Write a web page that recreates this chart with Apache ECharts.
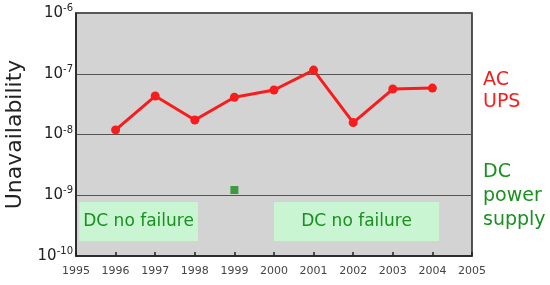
<!DOCTYPE html>
<html><head><meta charset="utf-8">
<script src="https://cdn.jsdelivr.net/npm/echarts@6/dist/echarts.min.js"></script>
<style>html,body{margin:0;padding:0;background:#fff}#c{width:550px;height:285px}</style>
</head><body><div id="c"></div>
<script>
const years = [1996, 1997, 1998, 1999, 2000, 2001, 2002, 2003, 2004];
const acUps = [1.19e-8, 4.3e-8, 1.73e-8, 4.1e-8, 5.4e-8, 1.15e-7, 1.57e-8, 5.6e-8, 5.8e-8];
const dcYears = [1999];
const dcPower = [1.22e-9];
const noFailBoxes = [
  {label: 'DC no failure', x0: 1995.08, x1: 1998.08, y0: 1.77e-10, y1: 7.75e-10},
  {label: 'DC no failure', x0: 2000.0, x1: 2004.17, y0: 1.77e-10, y1: 7.75e-10}
];
const xTicks = [1995, 1996, 1997, 1998, 1999, 2000, 2001, 2002, 2003, 2004, 2005];

const chart = echarts.init(document.getElementById('c'), null, {renderer: 'canvas'});
const font = 'DejaVu Sans, Verdana, sans-serif';
chart.setOption({
  animation: false,
  grid: {left: 76, right: 78, top: 13, bottom: 29, outerBoundsMode: 'none', containLabel: false,
    show: true, backgroundColor: '#d3d3d3', borderColor: '#222', borderWidth: 1.5},
  xAxis: {
    type: 'value', min: 1995, max: 2005, interval: 1,
    axisLine: {show: true, lineStyle: {color: '#222', width: 1.5}},
    axisTick: {show: true, inside: true, length: 4, lineStyle: {color: '#222', width: 1.5}},
    splitLine: {show: false},
    axisLabel: {color: '#444', fontFamily: font, fontSize: 11, margin: 10, formatter: v => String(v)}
  },
  yAxis: {
    type: 'log', logBase: 10, min: 1e-10, max: 1e-6,
    name: 'Unavailability', nameLocation: 'middle', nameGap: 50,
    nameTextStyle: {fontFamily: font, fontSize: 22, color: '#222'},
    axisLine: {show: true, lineStyle: {color: '#222', width: 1.5}},
    axisTick: {show: false},
    splitLine: {show: true, lineStyle: {color: '#555', width: 1}},
    axisLabel: {
      margin: 3,
      formatter: v => '{b|10}{s|' + Math.round(Math.log10(v)) + '}',
      rich: {
        b: {fontFamily: font, fontSize: 15, color: '#222'},
        s: {fontFamily: font, fontSize: 10, color: '#222', padding: [0, 0, 9, 0]}
      }
    }
  },
  series: [
    {
      type: 'line', data: years.map((y, i) => [y, acUps[i]]),
      lineStyle: {color: '#f81c1c', width: 3},
      itemStyle: {color: '#f81c1c'},
      symbol: 'circle', symbolSize: 9, z: 5,
      markArea: {
        silent: true,
        itemStyle: {color: '#c9f5d3', borderRadius: 5},
        label: {show: true, position: 'inside', color: '#1a901f', fontFamily: font, fontSize: 17},
        data: noFailBoxes.map(b => [
          {name: b.label, coord: [b.x0, b.y1]},
          {coord: [b.x1, b.y0]}
        ])
      }
    },
    {
      type: 'scatter', data: dcYears.map((y, i) => [y, dcPower[i]]),
      symbol: 'rect', symbolSize: 8, itemStyle: {color: '#1a8c1a'}, z: 6
    }
  ],
  graphic: [
    {type: 'text', left: 483, top: 69, style: {text: 'AC\nUPS', fill: '#f81c1c', font: '19px ' + font, lineHeight: 22}},
    {type: 'text', left: 483, top: 160, style: {text: 'DC\npower\nsupply', fill: '#1a901f', font: '19px ' + font, lineHeight: 24}}
  ]
});
</script></body></html>
